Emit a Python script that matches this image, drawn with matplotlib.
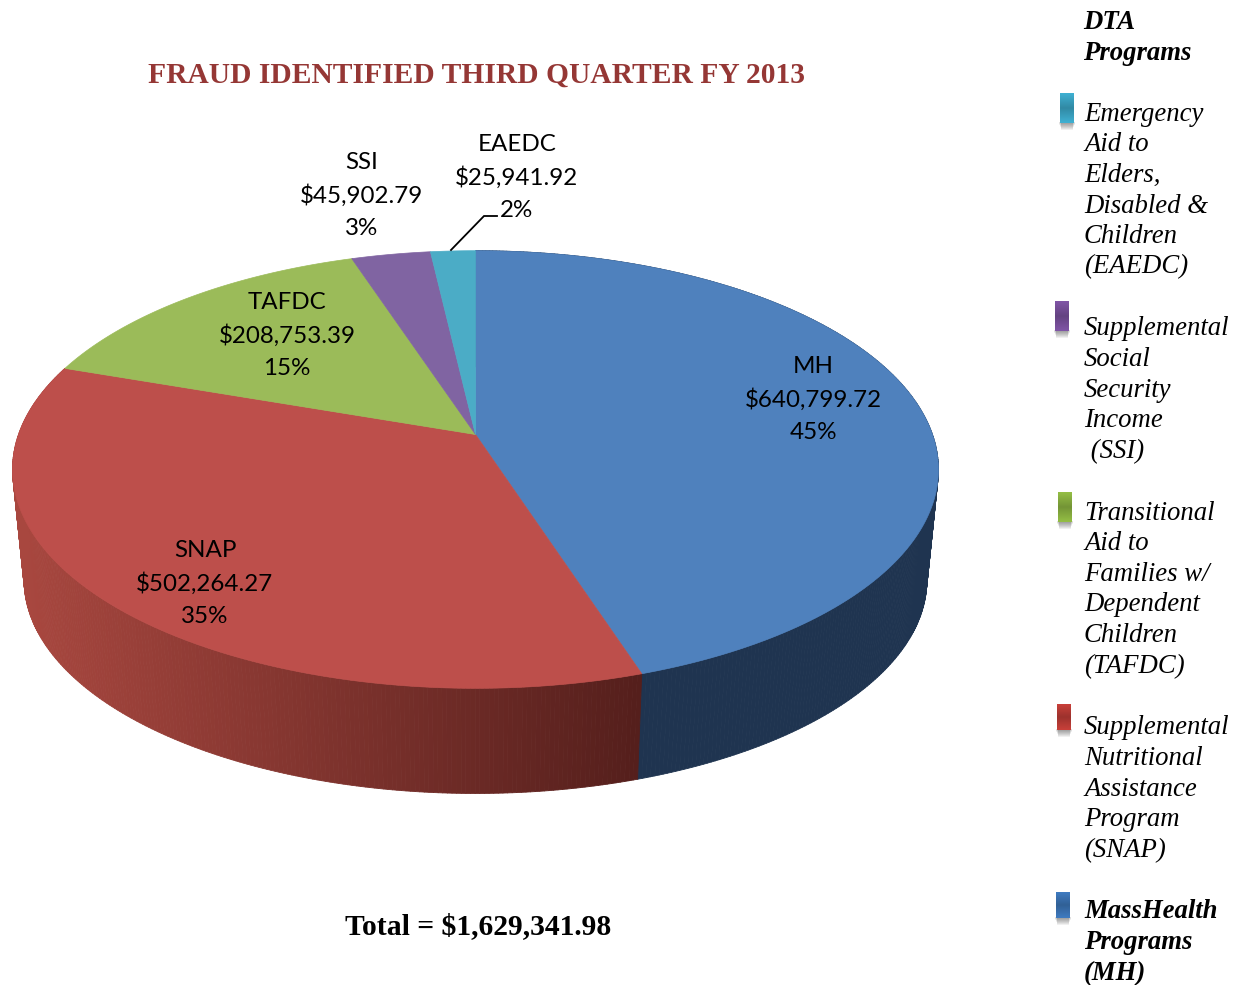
import numpy as np
import matplotlib
matplotlib.use("Agg")
import matplotlib.pyplot as plt
from matplotlib.patches import Polygon, Rectangle
from matplotlib.collections import PolyCollection
from matplotlib.colors import to_rgb

W, H = 1249, 985

# clockwise from 12 o'clock
names = ["MH", "SNAP", "TAFDC", "SSI", "EAEDC"]
amounts = [640799.72, 502264.27, 208753.39, 45902.79, 25941.92]
percents = [45, 35, 15, 3, 2]
total_label = "Total = $1,629,341.98"
title = "FRAUD IDENTIFIED THIRD QUARTER FY 2013"

legend_head = ["DTA", "Programs"]
legend_blocks = [
    ["Emergency", "Aid to", "Elders,", "Disabled &", "Children", "(EAEDC)"],
    ["Supplemental", "Social", "Security", "Income", " (SSI)"],
    ["Transitional", "Aid to", "Families w/", "Dependent", "Children", "(TAFDC)"],
    ["Supplemental", "Nutritional", "Assistance", "Program", "(SNAP)"],
    ["MassHealth", "Programs", "(MH)"],
]

top_colors = ["#4F81BD", "#BD4F4B", "#9BBB59", "#8064A2", "#4BACC6"]
side_left = ["#1F3654", "#A8473F", "#9BBB59", "#8064A2", "#4BACC6"]
side_right = ["#1F3450", "#551F1C", "#9BBB59", "#8064A2", "#4BACC6"]
icon_colors = ["#3FB0D2", "#8055A6", "#94BE45", "#C8403A", "#3F7BC0"]

# pie geometry, pixels
cx, cy = 475.5, 434.5
sx, sy, k = 457, 213.2, 0.16
depth, shrink = 111.5, 0.975


def project(deg, scale=1.0, dy=0.0):
    # perspective view of the disc, angle clockwise from the top
    t = np.radians(deg)
    d = 1 + k * np.cos(t)
    return cx + scale * sx * np.sin(t) / d, cy + dy - scale * sy * np.cos(t) / d


fig = plt.figure(figsize=(W / 100, H / 100), dpi=100)
ax = fig.add_axes([0, 0, 1, 1])
ax.set_xlim(0, W)
ax.set_ylim(H, 0)
ax.axis("off")

edges = np.concatenate([[0], np.cumsum(amounts)]) / sum(amounts) * 360

# side wall first, top disc covers the hidden part
for i in range(len(amounts)):
    a0, a1 = edges[i], edges[i + 1]
    if i > 1:
        continue
    steps = np.arange(a0, a1 + 0.5, 0.5)
    steps[-1] = a1
    quads, cols = [], []
    c0, c1 = np.array(to_rgb(side_left[i])), np.array(to_rgb(side_right[i]))
    for b0, b1 in zip(steps[:-1], steps[1:]):
        x0, y0 = project(b0)
        x1, y1 = project(b1)
        x2, y2 = project(b1, shrink, depth)
        x3, y3 = project(b0, shrink, depth)
        quads.append([(x0, y0), (x1, y1), (x2, y2), (x3, y3)])
        f = np.clip((x0 - 20) / (640 - 20), 0, 1)
        cols.append(c0 * (1 - f) + c1 * f)
    ax.add_collection(PolyCollection(quads, facecolors=cols, edgecolors=cols, linewidths=0.6))

for i in range(len(amounts)):
    th = np.linspace(edges[i], edges[i + 1], 200)
    xs, ys = project(th)
    pts = np.vstack([[cx, cy], np.column_stack([xs, ys])])
    ax.add_patch(Polygon(pts, closed=True, facecolor=top_colors[i], edgecolor=top_colors[i], linewidth=0.5))

# data labels
label_x = [813, 205, 287, 362, 517]
label_y = [399.5, 583.5, 335.5, 195.5, 177.5]
for i, name in enumerate(names):
    rows = [name, f"${amounts[i]:,.2f}", f"{percents[i]}%"]
    for j, row in enumerate(rows):
        ax.text(label_x[i], label_y[i] + (j - 1) * 33, row, family="Lato", fontsize=17.4,
                color="black", ha="center", va="center")

ax.plot([451, 484, 497], [250, 216, 216], color="black", lw=1.3, solid_joinstyle="miter")

ax.text(477, 82.5, title, family="Liberation Serif", weight="bold", fontsize=21.25,
        color="#953735", ha="center", va="baseline")
ax.text(478, 934, total_label, family="Liberation Serif", weight="bold", fontsize=21.3,
        color="black", ha="center", va="baseline")

# legend column
serif = dict(family="Liberation Serif", style="italic", fontsize=19.3, color="black", va="baseline")
for row, y in zip(legend_head, [29, 60]):
    ax.text(1083.5, y, row, weight="bold", **serif)

block_y = [
    [121, 151, 182, 213, 243, 273],
    [335, 366, 397, 427, 458],
    [520, 550, 581, 611, 642, 673],
    [734, 765, 796, 826, 857],
    [918, 949, 980],
]
for b, (rows, ys) in enumerate(zip(legend_blocks, block_y)):
    w = "bold" if b == 4 else "normal"
    for row, y in zip(rows, ys):
        ax.text(1084, y, row, weight=w, **serif)

icon_xy = [(1060, 93), (1055, 301), (1058, 492), (1057, 704), (1056, 892)]
icon_h = [30, 30, 30, 26, 26]
for (ix, iy), ih, col in zip(icon_xy, icon_h, icon_colors):
    for n in range(7):
        ax.add_patch(Rectangle((ix - 1 + n * 0.4, iy + ih - 1), 16 - n * 0.8, 2 + n, facecolor="black",
                               alpha=0.06, edgecolor="none"))
    c = np.array(to_rgb(col))
    # darker through the middle, lighter at both ends
    shade = 0.78 + 0.22 * np.abs(np.linspace(-1, 1, 32))
    grad = shade[:, None, None] * c[None, None, :]
    ax.imshow(grad, extent=(ix, ix + 14, iy + ih, iy), aspect="auto", zorder=3, interpolation="bilinear")
ax.set_xlim(0, W)
ax.set_ylim(H, 0)

fig.savefig("out.png", dpi=100, facecolor="white")
plt.close(fig)
